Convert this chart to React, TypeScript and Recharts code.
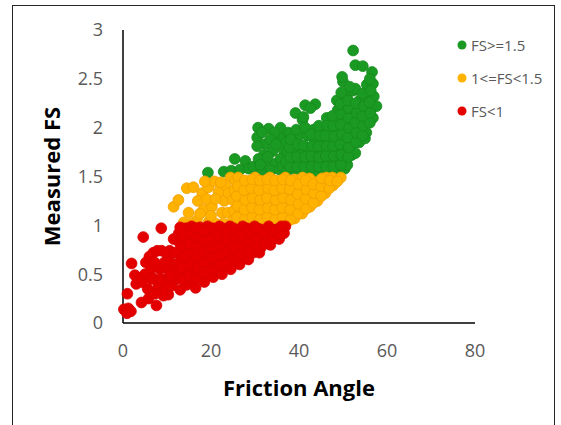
import React from 'react';
import { ScatterChart, Scatter, XAxis, YAxis, Legend, Label } from 'recharts';

const xTicks = [0, 20, 40, 60, 80];
const yTicks = [0, 0.5, 1, 1.5, 2, 2.5, 3];
const seriesNames = ['FS>=1.5', '1<=FS<1.5', 'FS<1'];
const seriesFill = ['#1A9A22', '#FFB200', '#E50000'];
const seriesStroke = ['#168A1D', '#F0A000', '#D80000'];

const greenPoints: [number, number][] = [
  [19.3, 1.54], [22.9, 1.55], [24.6, 1.56], [25.4, 1.68], [27.8, 1.66], [26.6, 1.57], [28.6, 1.58],
  [30.7, 2.0], [33.1, 1.99], [35.8, 2.0], [30.5, 1.9], [32.3, 1.83], [30.5, 1.81], [32.0, 1.72],
  [29.6, 1.6], [31.4, 1.56], [32.3, 1.65], [34.6, 1.63], [33.6, 1.56], [36.5, 1.77], [35.2, 1.88],
  [34.0, 1.76], [35.6, 1.57], [30.8, 1.68],
  [31.6, 1.95], [34.5, 1.95], [33.5, 1.88], [31.2, 1.62], [32.9, 1.7], [35.8, 1.68], [36.3, 1.6], [34.8, 1.83], [36.6, 1.9],
  [37.2, 1.55], [37.0, 1.65], [37.4, 1.75], [37.1, 1.85], [37.5, 1.95],
  [38.8, 1.58], [38.6, 1.68], [39.0, 1.78], [38.7, 1.88], [38.0, 1.94], [39.2, 2.15],
  [40.4, 1.55], [40.2, 1.65], [40.6, 1.73], [40.3, 1.93], [40.8, 2.08], [41.0, 2.11],
  [42.1, 1.58], [41.9, 1.68], [42.3, 1.77], [42.0, 1.92], [41.4, 2.23],
  [43.7, 1.55], [43.5, 1.65], [43.9, 1.75], [43.6, 1.86], [43.3, 1.98], [43.7, 2.24],
  [45.4, 1.58], [45.2, 1.68], [45.6, 1.78], [45.3, 1.88], [45.5, 1.98],
  [47.0, 1.55], [46.8, 1.65], [47.2, 1.75], [46.9, 1.85], [47.1, 1.95], [46.3, 2.1],
  [48.7, 1.58], [48.5, 1.68], [48.9, 1.78], [48.6, 1.88], [48.8, 1.98], [48.6, 2.08], [48.8, 2.18], [48.6, 2.28],
  [50.4, 1.58], [50.2, 1.68], [50.6, 1.78], [50.3, 1.88], [50.5, 1.98], [50.2, 2.08], [50.6, 2.18], [50.9, 2.32], [50.0, 2.47], [49.8, 2.52],
  [52.0, 1.72], [51.8, 1.82], [52.2, 1.92], [51.9, 2.02], [52.1, 2.12], [51.8, 2.22], [52.4, 2.38], [52.3, 2.79], [52.8, 2.64],
  [53.7, 1.85], [53.5, 1.95], [53.9, 2.05], [53.6, 2.15], [53.8, 2.28], [52.8, 2.4],
  [55.3, 1.95], [55.1, 2.05], [55.5, 2.15], [55.2, 2.28], [55.4, 2.44], [54.5, 2.63],
  [56.8, 2.1], [56.6, 2.2], [57.0, 2.32], [56.8, 2.45], [56.6, 2.57], [57.6, 2.22], [55.0, 1.89], [52.8, 1.74], [51.0, 1.62],
  [37.9, 1.6], [38.0, 1.7], [37.8, 1.8], [38.1, 1.88],
  [39.6, 1.6], [39.5, 1.7], [39.7, 1.83], [39.4, 1.98],
  [41.2, 1.6], [41.3, 1.7], [41.1, 1.82], [41.4, 2.0],
  [42.9, 1.6], [42.8, 1.71], [43.0, 1.81], [42.7, 1.93], [42.6, 2.2],
  [44.5, 1.6], [44.6, 1.7], [44.4, 1.81], [44.7, 1.92], [44.5, 2.02],
  [46.2, 1.6], [46.1, 1.71], [46.3, 1.81], [46.0, 1.92], [46.4, 2.02],
  [47.8, 1.6], [47.9, 1.71], [47.7, 1.81], [48.0, 1.91], [47.8, 2.02], [47.6, 2.12],
  [49.5, 1.62], [49.6, 1.72], [49.4, 1.83], [49.7, 1.93], [49.5, 2.03], [49.6, 2.14], [49.4, 2.24], [49.6, 2.36],
  [51.2, 1.7], [51.3, 1.8], [51.1, 1.9], [51.4, 2.0], [51.2, 2.1], [51.3, 2.2], [51.1, 2.28], [51.5, 2.42],
  [52.9, 1.85], [53.0, 1.95], [52.8, 2.05], [53.1, 2.15], [52.9, 2.25],
  [54.5, 1.92], [54.6, 2.02], [54.4, 2.12], [54.7, 2.22], [54.5, 2.35],
  [56.1, 2.05], [56.2, 2.15], [56.0, 2.26], [56.3, 2.38], [56.1, 2.5],
];

const orangePoints: [number, number][] = [
  [11.5, 1.19], [12.6, 1.26], [14.5, 1.38], [16.0, 1.39], [14.9, 1.13], [13.8, 1.03], [18.0, 1.33],
  [18.3, 1.16], [20.2, 1.19], [19.4, 1.39], [21.7, 1.34], [22.5, 1.13], [24.4, 1.49], [23.3, 1.41],
  [16.8, 1.05], [19.5, 1.04], [21.0, 1.02], [23.0, 1.25], [17.0, 1.25], [15.6, 1.02], [20.8, 1.45], [22.8, 1.02],
  [19.0, 1.27], [21.0, 1.27], [22.2, 1.44], [23.8, 1.13], [24.0, 1.33], [18.6, 1.45], [20.0, 1.1], [17.5, 1.12],
  [25.0, 1.05], [25.2, 1.15], [24.9, 1.26], [25.3, 1.36], [25.5, 1.46],
  [26.8, 1.02], [26.6, 1.11], [27.0, 1.21], [26.7, 1.31], [26.9, 1.41], [26.2, 1.49],
  [28.5, 1.05], [28.3, 1.15], [28.7, 1.25], [28.4, 1.35], [28.6, 1.45],
  [30.2, 1.02], [30.0, 1.11], [30.4, 1.21], [30.1, 1.31], [30.3, 1.41], [30.0, 1.49],
  [32.0, 1.05], [31.8, 1.15], [32.2, 1.25], [31.9, 1.35], [32.1, 1.45],
  [33.7, 1.02], [33.5, 1.11], [33.9, 1.21], [33.6, 1.31], [33.8, 1.41], [33.4, 1.49],
  [35.5, 1.05], [35.3, 1.15], [35.7, 1.25], [35.4, 1.35], [35.6, 1.45],
  [37.2, 1.03], [37.0, 1.12], [37.4, 1.22], [37.1, 1.32], [37.3, 1.42], [36.9, 1.49],
  [39.0, 1.07], [38.8, 1.17], [39.2, 1.27], [38.9, 1.37], [39.1, 1.47],
  [40.7, 1.12], [40.5, 1.22], [40.9, 1.32], [40.6, 1.42], [40.8, 1.49],
  [42.5, 1.19], [42.3, 1.29], [42.7, 1.39], [42.4, 1.48],
  [44.2, 1.25], [44.0, 1.35], [44.4, 1.45],
  [46.0, 1.33], [45.8, 1.42], [46.2, 1.49],
  [47.8, 1.41], [47.6, 1.49],
  [49.5, 1.49],
  [25.9, 1.08], [26.0, 1.2], [25.8, 1.3], [26.1, 1.4],
  [27.7, 1.06], [27.6, 1.16], [27.8, 1.26], [27.5, 1.36], [27.7, 1.46],
  [29.4, 1.08], [29.3, 1.18], [29.5, 1.28], [29.2, 1.38], [29.4, 1.47],
  [31.1, 1.06], [31.0, 1.16], [31.2, 1.26], [30.9, 1.36], [31.1, 1.46],
  [32.8, 1.08], [32.9, 1.18], [32.7, 1.28], [33.0, 1.38], [32.8, 1.47],
  [34.6, 1.06], [34.5, 1.16], [34.7, 1.26], [34.4, 1.36], [34.6, 1.46],
  [36.3, 1.08], [36.2, 1.18], [36.4, 1.28], [36.1, 1.38], [36.3, 1.47],
  [38.1, 1.06], [38.0, 1.16], [38.2, 1.26], [37.9, 1.37], [38.1, 1.46],
  [39.8, 1.12], [39.9, 1.22], [39.7, 1.32], [39.9, 1.42],
  [41.6, 1.17], [41.5, 1.27], [41.7, 1.37], [41.5, 1.46],
  [43.3, 1.23], [43.4, 1.33], [43.2, 1.42],
  [45.1, 1.3], [45.0, 1.4], [45.2, 1.48],
  [46.9, 1.38], [47.0, 1.46],
  [48.7, 1.45],
];

const redPoints: [number, number][] = [
  [0.2, 0.14], [0.9, 0.1], [1.2, 0.15], [1.8, 0.12], [1.0, 0.3], [1.95, 0.61], [2.7, 0.49], [4.2, 0.21],
  [4.6, 0.88], [3.6, 0.44], [5.0, 0.5], [5.6, 0.35], [6.4, 0.56], [6.9, 0.72], [7.8, 0.74], [8.8, 0.74],
  [8.7, 0.97], [8.0, 0.37], [7.6, 0.18], [6.8, 0.46], [8.4, 0.55], [9.4, 0.62], [10.3, 0.29], [9.8, 0.45],
  [10.6, 0.74], [11.2, 0.58], [11.5, 0.86], [11.8, 0.44], [13.0, 0.34], [14.4, 0.39], [9.2, 0.28], [5.8, 0.25],
  [5.2, 0.62], [6.0, 0.68], [7.2, 0.62], [7.3, 0.3], [8.6, 0.45], [9.6, 0.35], [10.2, 0.55], [10.4, 0.65],
  [11.0, 0.38], [9.8, 0.72], [6.5, 0.45], [3.0, 0.4], [4.3, 0.42], [10.8, 0.48], [11.6, 0.72], [12.0, 0.6],
  [12.6, 0.5], [12.8, 0.62], [12.4, 0.72], [12.9, 0.82], [12.7, 0.92],
  [14.2, 0.45], [14.4, 0.55], [14.0, 0.66], [14.5, 0.76], [14.1, 0.87], [14.3, 0.97],
  [15.9, 0.43], [16.1, 0.52], [15.7, 0.62], [16.0, 0.72], [15.8, 0.83], [16.2, 0.93], [15.6, 0.99],
  [17.6, 0.48], [17.4, 0.58], [17.8, 0.67], [17.3, 0.78], [17.7, 0.88], [17.5, 0.98],
  [19.3, 0.5], [19.1, 0.6], [19.5, 0.7], [19.0, 0.81], [19.4, 0.91], [19.2, 0.99],
  [21.0, 0.54], [21.2, 0.64], [20.8, 0.74], [21.1, 0.84], [20.9, 0.94],
  [22.7, 0.57], [22.9, 0.67], [22.5, 0.77], [22.8, 0.87], [22.6, 0.97],
  [24.4, 0.61], [24.6, 0.71], [24.2, 0.81], [24.5, 0.91], [24.3, 0.99],
  [26.1, 0.64], [26.3, 0.74], [26.0, 0.84], [26.4, 0.94],
  [27.8, 0.67], [28.0, 0.77], [27.7, 0.87], [28.1, 0.97],
  [29.6, 0.72], [29.8, 0.82], [29.5, 0.92], [29.9, 0.99],
  [31.3, 0.77], [31.5, 0.87], [31.2, 0.96],
  [33.0, 0.82], [33.3, 0.91], [33.1, 0.99],
  [34.8, 0.87], [35.0, 0.96],
  [36.6, 0.92], [36.9, 0.99],
  [16.5, 0.36], [18.5, 0.42], [20.5, 0.47], [22.5, 0.5], [24.5, 0.55], [26.5, 0.6], [28.5, 0.65],
  [31.0, 0.72], [33.5, 0.8], [35.5, 0.86],
  [13.4, 0.45], [13.3, 0.57], [13.5, 0.68], [13.2, 0.79], [13.6, 0.9], [13.0, 0.98],
  [15.0, 0.49], [15.2, 0.6], [14.9, 0.71], [15.1, 0.81], [15.3, 0.92],
  [16.8, 0.46], [16.9, 0.57], [16.7, 0.68], [17.0, 0.77], [16.8, 0.88], [16.6, 0.97],
  [18.4, 0.52], [18.5, 0.63], [18.3, 0.74], [18.6, 0.84], [18.4, 0.95],
  [20.1, 0.55], [20.3, 0.66], [20.0, 0.77], [20.2, 0.87], [20.4, 0.97],
  [21.8, 0.58], [22.0, 0.7], [21.9, 0.8], [21.7, 0.9], [21.9, 0.99],
  [23.6, 0.62], [23.5, 0.73], [23.7, 0.84], [23.4, 0.94],
  [25.3, 0.66], [25.2, 0.77], [25.4, 0.88], [25.1, 0.97],
  [27.0, 0.7], [27.1, 0.8], [26.9, 0.9], [27.2, 0.99],
  [28.8, 0.73], [28.9, 0.83], [28.7, 0.93],
  [30.5, 0.77], [30.6, 0.87], [30.4, 0.97],
  [32.2, 0.81], [32.3, 0.91],
  [34.0, 0.86], [34.1, 0.95],
  [35.8, 0.91], [36.0, 0.99],
];

const allSeries = [greenPoints, orangePoints, redPoints];

const FONT = "'Open Sans', 'DejaVu Sans', sans-serif";

const makeShape = (i: number) => (props: any) => (
  <circle cx={props.cx} cy={props.cy} r={5.4} fill={seriesFill[i]} stroke={seriesStroke[i]} strokeWidth={0.8} />
);

const renderLegend = () => (
  <div style={{ display: 'flex', flexDirection: 'column' }}>
    {seriesNames.map((name, i) => (
      <div
        key={name}
        style={{
          display: 'flex',
          alignItems: 'center',
          height: 33,
          fontFamily: FONT,
          fontSize: 15,
          color: '#595959',
          whiteSpace: 'nowrap',
        }}
      >
        <svg width={10} height={10} style={{ display: 'block' }}>
          <circle cx={5} cy={5} r={4.5} fill={seriesFill[i]} />
        </svg>
        <span style={{ marginLeft: 4 }}>{name}</span>
      </div>
    ))}
  </div>
);

export default function App() {
  return (
    <div style={{ position: 'absolute', left: 0, top: 0, width: 561, height: 425, background: '#fff', overflow: 'hidden' }}>
      <div
        style={{
          position: 'absolute',
          left: 12,
          top: 5,
          width: 543,
          height: 440,
          border: '1px solid #262626',
          boxSizing: 'border-box',
        }}
      />
      <div style={{ position: 'absolute', left: 0, top: 0 }}>
        <ScatterChart width={561} height={425} margin={{ top: 30, right: 86, bottom: 72, left: 0 }}>
          <XAxis
            type="number"
            dataKey="x"
            domain={[0, 80]}
            ticks={xTicks}
            height={30}
            tickLine={false}
            tickSize={0}
            tickMargin={21}
            axisLine={{ stroke: '#000', strokeWidth: 1.5 }}
            tick={{ fill: '#595959', fontSize: 18, fontFamily: FONT }}
          >
            <Label
              value="Friction Angle"
              position="bottom"
              offset={27}
              style={{ fontFamily: FONT, fontSize: 22, fontWeight: 700, fill: '#000' }}
            />
          </XAxis>
          <YAxis
            type="number"
            dataKey="y"
            domain={[0, 3]}
            ticks={yTicks}
            width={123}
            tickLine={false}
            tickSize={0}
            tickMargin={20}
            axisLine={{ stroke: '#000', strokeWidth: 1.5 }}
            tick={{ fill: '#595959', fontSize: 18, fontFamily: FONT }}
          >
            <Label
              value="Measured FS"
              angle={-90}
              position="insideLeft"
              offset={52}
              style={{ fontFamily: FONT, fontSize: 22, fontWeight: 700, fill: '#000', textAnchor: 'middle' }}
            />
          </YAxis>
          {allSeries.map((pts, i) => (
            <Scatter
              key={seriesNames[i]}
              name={seriesNames[i]}
              data={pts.map(([x, y]) => ({ x, y }))}
              fill={seriesFill[i]}
              shape={makeShape(i)}
              isAnimationActive={false}
            />
          ))}
          <Legend
            layout="vertical"
            align="center"
            verticalAlign="middle"
            content={renderLegend}
            wrapperStyle={{ position: 'absolute', left: 457, top: 28, width: 110, height: 100 }}
          />
        </ScatterChart>
      </div>
    </div>
  );
}
